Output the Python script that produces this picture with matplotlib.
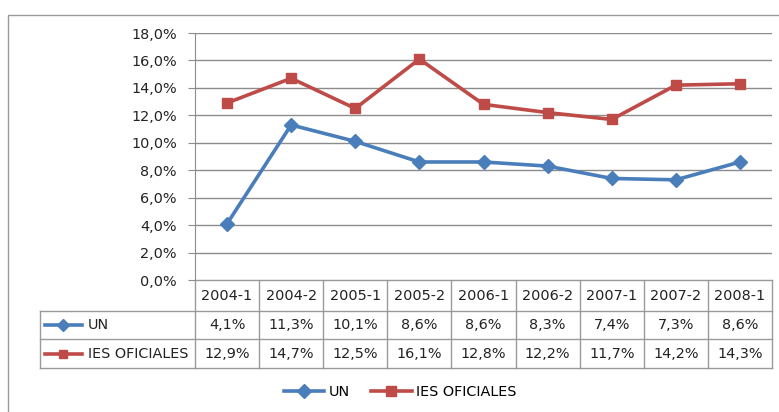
import numpy as np
import matplotlib.pyplot as plt
from matplotlib.patches import Rectangle
from matplotlib.transforms import blended_transform_factory

plt.rcParams['font.family'] = ['DejaVu Sans']

# ── 데이터 ──────────────────────────────────────
periodos = ['2004-1', '2004-2', '2005-1', '2005-2', '2006-1',
            '2006-2', '2007-1', '2007-2', '2008-1']
un = [4.1, 11.3, 10.1, 8.6, 8.6, 8.3, 7.4, 7.3, 8.6]
ies = [12.9, 14.7, 12.5, 16.1, 12.8, 12.2, 11.7, 14.2, 14.3]
series = [('UN', un, '#4A7EBB', 'D', 7), ('IES OFICIALES', ies, '#BE4B48', 's', 6.5)]
yticks = np.arange(0, 18.1, 2)

W, H = 779, 412
FS = 10.4
TXT = '#222222'
fig = plt.figure(figsize=(W / 100, H / 100), dpi=100)

# 픽셀 좌표용 오버레이
over = fig.add_axes([0, 0, 1, 1])
over.set_xlim(0, W)
over.set_ylim(H, 0)
over.axis('off')

L, R, T, B = 195, 772, 33, 280
ax = fig.add_axes([L / W, 1 - B / H, (R - L) / W, (B - T) / H])
n = len(periodos)
x = np.arange(n)
for name, vals, col, mk, ms in series:
    ax.plot(x, vals, color=col, lw=2.6, marker=mk, ms=ms, label=name, zorder=3)
ax.set_xlim(-0.5, n - 0.5)
ax.set_ylim(0, 18)
ax.set_yticks(yticks)
ax.set_yticklabels([f'{v:.1f}%'.replace('.', ',') for v in yticks], fontsize=FS, color=TXT)
ax.set_xticks([])
ax.grid(axis='y', color='#8c8c8c', lw=1)
for s in ['top', 'right', 'bottom']:
    ax.spines[s].set_visible(False)
ax.spines['left'].set_color('#8c8c8c')
ax.tick_params(axis='y', length=5, color='#8c8c8c', pad=8)

# 외곽 프레임
over.add_patch(Rectangle((8, 15), 800, 420, fill=False, ec='#9a9a9a', lw=1))

# ── 데이터 테이블 ────────────────────────────────
tr = blended_transform_factory(ax.transData, over.transData)
gc = '#9a9a9a'
rows_y = [280, 311, 339, 368]
# 세로선
for i in range(n + 1):
    over.plot([i - 0.5, i - 0.5], [rows_y[0], rows_y[-1]], color=gc, lw=1, transform=tr)
over.plot([40, 40], [rows_y[1], rows_y[-1]], color=gc, lw=1)
# 가로선
over.plot([L, R], [rows_y[0], rows_y[0]], color=gc, lw=1)
for yy in rows_y[1:]:
    over.plot([40, R], [yy, yy], color=gc, lw=1)

for i, p in enumerate(periodos):
    over.text(i, (rows_y[0] + rows_y[1]) / 2, p, transform=tr, ha='center', va='center',
              fontsize=FS, color=TXT)
for r, (name, vals, col, mk, ms) in enumerate(series):
    yc = (rows_y[r + 1] + rows_y[r + 2]) / 2
    over.plot([45, 82], [yc, yc], color=col, lw=2.6)
    over.plot([63.5], [yc], color=col, marker=mk, ms=ms - 0.5)
    over.text(88, yc, name, ha='left', va='center', fontsize=FS, color=TXT)
    for i, v in enumerate(vals):
        over.text(i, yc, f'{v:.1f}%'.replace('.', ','), transform=tr, ha='center',
                  va='center', fontsize=FS, color=TXT)

# ── 범례 ──────────────────────────────────────
fig.legend(loc='center', bbox_to_anchor=(400 / W, 1 - 392 / H), ncol=2, frameon=False,
           fontsize=FS, handlelength=2.8, columnspacing=1.5, handletextpad=0.3)

fig.savefig('out.png', dpi=100)
